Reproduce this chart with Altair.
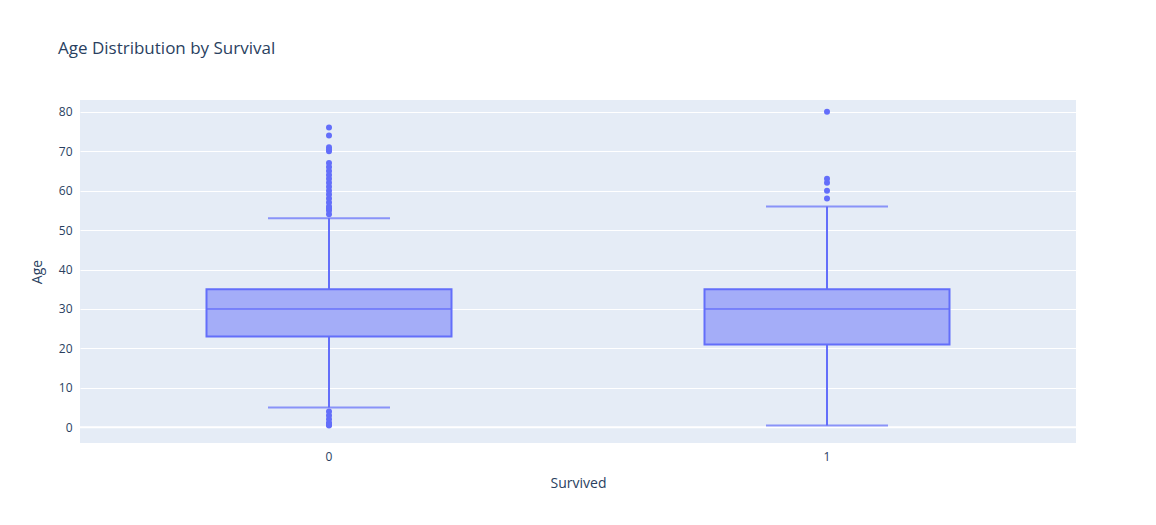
import altair as alt
import pandas as pd

groups = ["0", "1"]
q1 = [23, 21]
median = [30, 30]
q3 = [35, 35]
lower = [5, 0.42]
upper = [53, 56]

out_0 = [0.42, 0.67, 0.75, 0.83, 0.92, 1, 2, 3, 4,
         54, 55, 55.5, 56, 57, 58, 59, 60, 61, 62, 63, 64, 65, 66, 67,
         70, 70.5, 71, 74, 76]
out_1 = [58, 60, 62, 63, 80]

stats = pd.DataFrame({"Survived": groups, "q1": q1, "median": median,
                      "q3": q3, "lower": lower, "upper": upper})
outliers = pd.DataFrame({"Survived": ["0"] * len(out_0) + ["1"] * len(out_1),
                         "Age": out_0 + out_1})

blue = "#636efa"
x = alt.X("Survived:N", title="Survived",
          scale=alt.Scale(paddingInner=0, paddingOuter=0),
          axis=alt.Axis(labelAngle=0, grid=False, ticks=False, domain=False,
                        labelPadding=8, titlePadding=14))
yscale = alt.Scale(domain=[-4, 83], nice=False, zero=False)

base = alt.Chart(stats)
zero = alt.Chart(pd.DataFrame({"z": [0]})).mark_rule(color="white", strokeWidth=2).encode(y=alt.Y("z:Q", scale=yscale))
whisk_low = base.mark_rule(color=blue, strokeWidth=2).encode(
    x=x, y=alt.Y("lower:Q", scale=yscale, title="Age",
                 axis=alt.Axis(values=list(range(0, 81, 10)), domain=False, ticks=False,
                               gridColor="white", labelPadding=8, titlePadding=14)),
    y2="q1:Q")
whisk_high = base.mark_rule(color=blue, strokeWidth=2).encode(x=x, y="q3:Q", y2="upper:Q")
box = base.mark_bar(size=245, color=blue, fillOpacity=0.5, stroke=blue, strokeWidth=2).encode(
    x=x, y="q1:Q", y2="q3:Q")
med = base.mark_tick(size=245, thickness=2, color=blue).encode(x=x, y="median:Q")
cap_lo = base.mark_tick(size=122, thickness=2, color=blue).encode(x=x, y="lower:Q")
cap_hi = base.mark_tick(size=122, thickness=2, color=blue).encode(x=x, y="upper:Q")
pts = alt.Chart(outliers).mark_circle(size=36, color=blue, opacity=1).encode(
    x=x, y=alt.Y("Age:Q", scale=yscale))

chart = alt.layer(zero, whisk_low, whisk_high, box, med, cap_lo, cap_hi, pts).properties(
    width=996, height=343,
    autosize=alt.AutoSizeParams(type="none"),
    padding={"left": 72, "top": 92, "right": 72, "bottom": 74},
    background="white",
    title=alt.Title("Age Distribution by Survival", anchor="start", frame="group",
                    dx=-22, offset=42, fontSize=17, fontWeight="normal", color="#2a3f5f",
                    font="Open Sans"),
).configure_view(fill="#e5ecf6", stroke=None).configure_axis(
    labelFont="Open Sans", titleFont="Open Sans", labelColor="#2a3f5f",
    titleColor="#2a3f5f", labelFontSize=12, titleFontSize=14, titleFontWeight="normal")

chart.save("out.html", embed_options={"renderer": "svg", "actions": False})
